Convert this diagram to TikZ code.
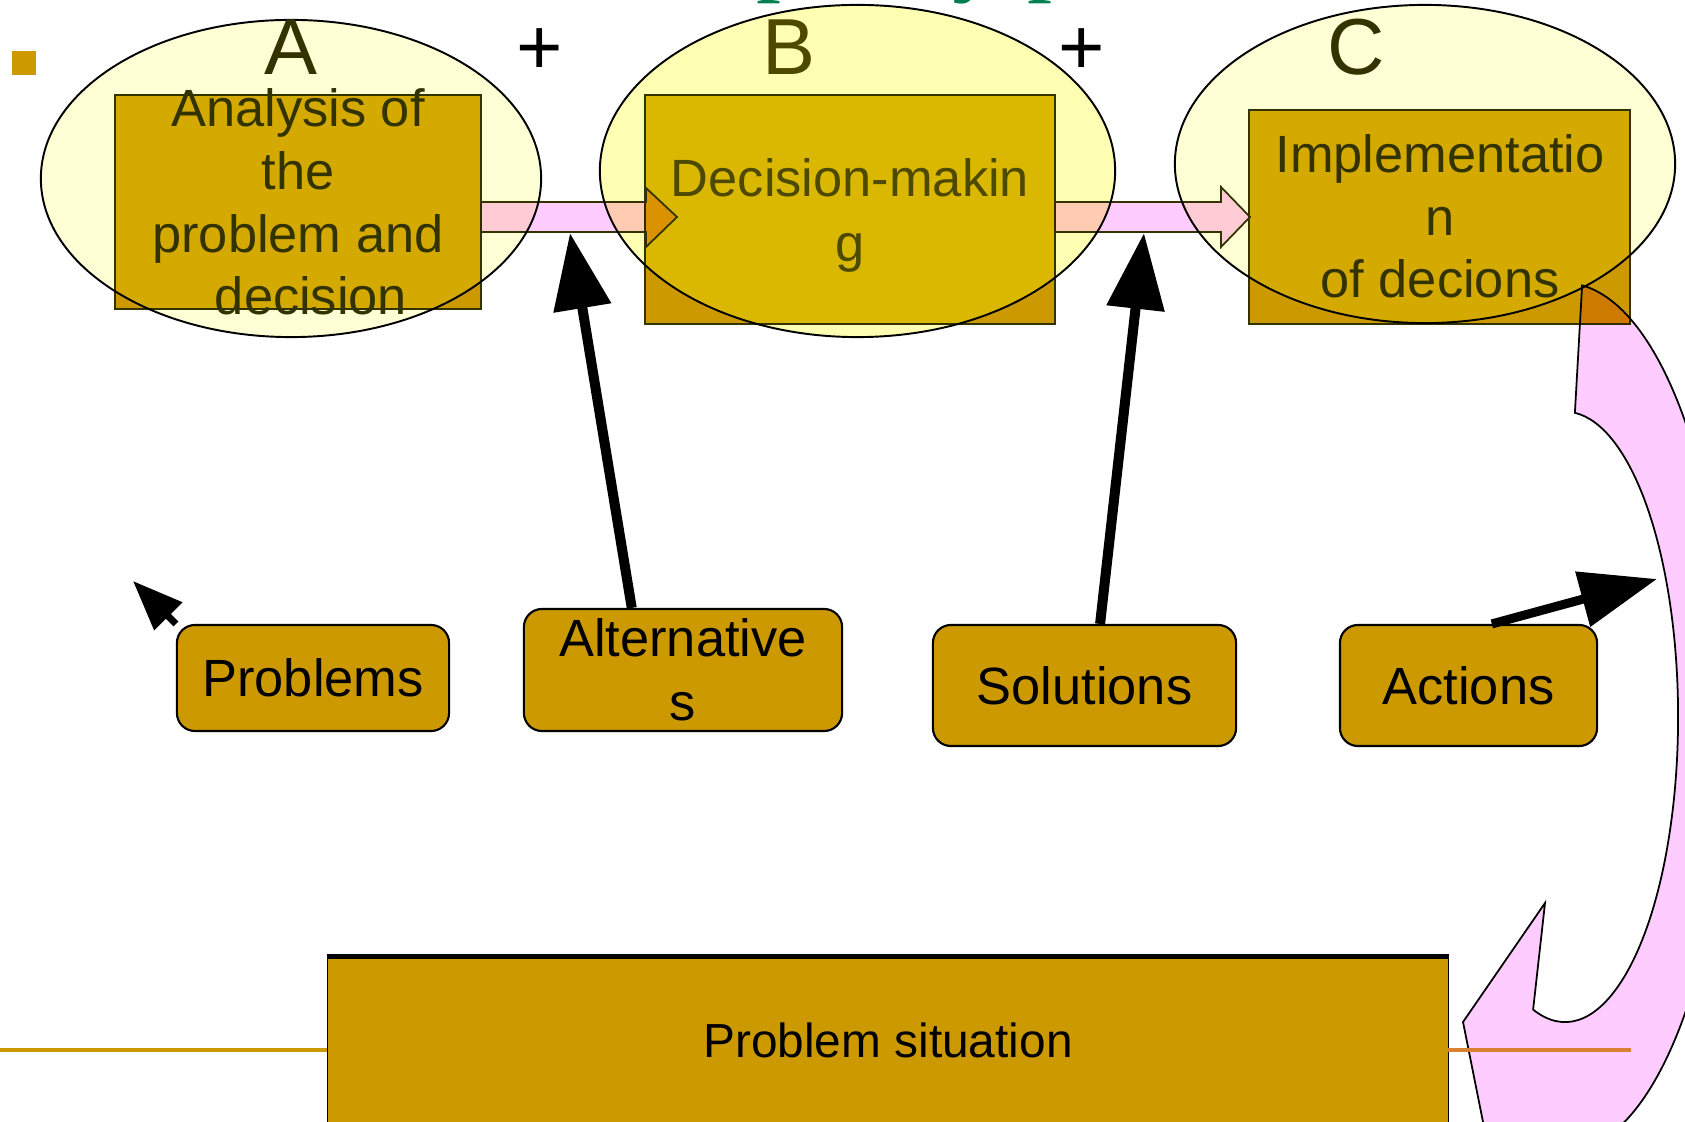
\documentclass[tikz,border=0pt]{standalone}
\usepackage{fontspec}
\setmainfont{Liberation Sans}
\newfontfamily\titlefont{Liberation Serif}
\usetikzlibrary{arrows.meta,calc}
\definecolor{gold}{HTML}{CC9900}
\definecolor{goldA}{HTML}{D4AA00}
\definecolor{goldB}{HTML}{DAB700}
\definecolor{ellA}{HTML}{FFFFD6}
\definecolor{ellB}{HTML}{FFFFB3}
\definecolor{pinkk}{HTML}{FFCCFF}
\definecolor{olive}{HTML}{333300}
\definecolor{oliveB}{HTML}{4D4A00}
\definecolor{titlegreen}{HTML}{007F4F}
\definecolor{lineorange}{HTML}{D98032}
\tikzset{
  rbox/.style={rectangle, fill=gold, draw=none, inner sep=0pt},
  pbox/.style={rectangle, rounded corners=0.18cm, fill=gold, draw=black, line width=0.6pt, inner sep=0pt,
     font=\fontsize{14.9}{18.2}\selectfont, text=black, text height=0.376cm, text depth=0pt},
  rtext/.style={align=center, anchor=base, inner sep=0pt, font=\fontsize{14.9}{17.9}\selectfont},
  letter/.style={anchor=base, inner sep=0pt, font=\fontsize{22.6}{27}\selectfont},
  blk/.style={line width=0.1cm, black, -{Triangle[length=0.76cm, width=0.56cm]}},
  arrline/.style={draw=olive, line width=0.5pt, line join=miter},
}
\begin{document}
\begin{tikzpicture}[x=0.01cm, y=-0.01cm]
\clip (0,0) rectangle (1685,1122);
\fill[white] (0,0) rectangle (1685,1122);

% title descenders and bullet
\node[anchor=base west, inner sep=0pt, font=\titlefont\fontsize{28.45}{30}\selectfont, text=titlegreen] (t1) at (756,-17.7) {p};
\node[anchor=base west, inner sep=0pt, font=\titlefont\fontsize{28.45}{30}\selectfont, text=titlegreen] (t2) at (952,-17.7) {y p};
\fill[gold] (12,51) rectangle (36,75);

% ellipse fills
\fill[ellA] (291,178.5) ellipse [x radius=2.5cm, y radius=1.585cm];
\fill[ellB] (857.5,171) ellipse [x radius=2.575cm, y radius=1.66cm];
\fill[ellA] (1425,164) ellipse [x radius=2.5cm, y radius=1.59cm];

% rectangles
\node[rbox, minimum width=3.64cm, minimum height=2.12cm] (rA) at (298,202) {};
\node[rbox, minimum width=4.08cm, minimum height=2.27cm] (rB) at (850,209.5) {};
\node[rbox, minimum width=3.79cm, minimum height=2.12cm] (rC) at (1439.5,217) {};
\begin{scope}
  \clip (291,178.5) ellipse [x radius=2.5cm, y radius=1.585cm];
  \fill[goldA] (rA.north west) rectangle (rA.south east);
\end{scope}
\begin{scope}
  \clip (857.5,171) ellipse [x radius=2.575cm, y radius=1.66cm];
  \fill[goldB] (rB.north west) rectangle (rB.south east);
\end{scope}
\begin{scope}
  \clip (1425,164) ellipse [x radius=2.5cm, y radius=1.59cm];
  \fill[goldA] (rC.north west) rectangle (rC.south east);
\end{scope}
\draw[olive, line width=0.6pt] (rA.north west) rectangle (rA.south east);
\draw[olive, line width=0.6pt] (rB.north west) rectangle (rB.south east);
\draw[olive, line width=0.6pt] (rC.north west) rectangle (rC.south east);

% block arrows between the steps
\begin{scope}[blend mode=multiply]
  \fill[pinkk] (480,202) -- (646,202) -- (646,188) -- (677,217) -- (646,247) -- (646,232) -- (480,232) -- cycle;
  \fill[pinkk] (1054,202) -- (1221,202) -- (1221,187) -- (1250,217) -- (1221,247) -- (1221,232) -- (1054,232) -- cycle;
\end{scope}
\draw[arrline] (480,202) -- (646,202) -- (646,188) -- (677,217) -- (646,247) -- (646,232) -- (480,232);
\draw[arrline] (1054,202) -- (1221,202) -- (1221,187) -- (1250,217) -- (1221,247) -- (1221,232) -- (1054,232);

% texts in the steps (base = last line)
\node[rtext, text=olive] (tA) at (298,315) {Analysis of\\the\\problem and\\\hspace*{0.26cm}decision};
\node[rtext, text=oliveB, font=\fontsize{14.9}{18.5}\selectfont] (tB) at (850,262) {Decision-makin\\g};
\node[rtext, text=olive] (tC) at (1440,298) {Implementatio\\n\\of decions};

% ellipse outlines
\draw[black, line width=0.55pt] (291,178.5) ellipse [x radius=2.5cm, y radius=1.585cm];
\draw[black, line width=0.55pt] (857.5,171) ellipse [x radius=2.575cm, y radius=1.66cm];
\draw[black, line width=0.55pt] (1425,164) ellipse [x radius=2.5cm, y radius=1.59cm];

% letters and plus signs
\node[letter, text=olive] (lA) at (291,75) {A};
\node[letter, text=oliveB] (lB) at (789,75) {B};
\node[letter, text=olive] (lC) at (1356,75) {C};
\node[letter, text=black] (p1) at (540,75) {+};
\node[letter, text=black] (p2) at (1082,75) {+};

% lower boxes
\node[pbox, minimum width=2.72cm, minimum height=1.06cm] (prob) at (313,678) {Problems};
\node[pbox, minimum width=3.18cm, minimum height=1.22cm] (alt) at (683,670) {};
\node[rtext, text=black, font=\fontsize{14.9}{18.2}\selectfont] (altT) at (683,721) {Alternative\\s};
\node[pbox, minimum width=3.03cm, minimum height=1.21cm] (sol) at (1084.5,685.5) {Solutions};
\node[pbox, minimum width=2.57cm, minimum height=1.21cm] (act) at (1468.5,685.5) {Actions};

% black arrows
\coordinate (altS) at ($(alt.north west)!0.34!(alt.north east)$);
\coordinate (altTip) at (570,233);
\coordinate (solS) at ($(sol.north west)!0.551!(sol.north east)$);
\coordinate (solTip) at (1144,233);
\coordinate (actS) at ($(act.north west)!0.59!(act.north east)$);
\coordinate (actTip) at (1657,579);
\coordinate (probTip) at (133,581);
\draw[blk] (altS) -- (altTip);
\draw[blk] (solS) -- (solTip);
\draw[blk, line width=0.09cm, -{Triangle[length=0.77cm, width=0.55cm]}] (actS) -- (actTip);
\draw[black, line width=0.07cm, -{Triangle[length=0.5cm, width=0.38cm]}] (prob.north west) -- (probTip);

% bottom lines and box
\draw[gold, line width=1.1pt] (0,1050) -- (328,1050);
\node[pbox, rounded corners=0pt, line width=0.4pt, font=\fontsize{13.6}{16}\selectfont, text height=0.345cm,
      minimum width=11.2cm, minimum height=1.67cm] (ps) at (888,1040.5) {Problem situation};
\draw[black, line width=1.3pt] (ps.north west) -- (ps.north east);

% big curved arrow
\begin{scope}[blend mode=multiply]
  \fill[pinkk] (1582.1,285.4) arc[start angle=84, end angle=-100, x radius=1.64cm, y radius=4.34cm]
     -- (1490,1157) -- (1463,1022) -- (1545,903) -- (1533.1,1009.6)
     arc[start angle=-106.4, end angle=85, x radius=1.13cm, y radius=3.05cm] -- cycle;
\end{scope}
\draw[black, line width=0.5pt, line join=miter] (1582.1,285.4) arc[start angle=84, end angle=-100, x radius=1.64cm, y radius=4.34cm]
     -- (1490,1157) -- (1463,1022) -- (1545,903) -- (1533.1,1009.6)
     arc[start angle=-106.4, end angle=85, x radius=1.13cm, y radius=3.05cm] -- cycle;
\draw[lineorange, line width=1.1pt] (1448,1050) -- (1631,1050);
\end{tikzpicture}
\end{document}
